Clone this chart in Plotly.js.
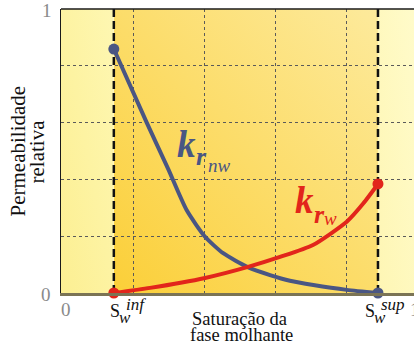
<!DOCTYPE html>
<html>
<head>
<meta charset="utf-8">
<script src="https://cdn.plot.ly/plotly-3.0.1.min.js"></script>
<style>html,body{margin:0;padding:0;background:#fff;}#chart{width:414px;height:346px;}</style>
</head>
<body>
<div id="chart"></div>
<script>
// ---- data ----
const swInf = 0.146;
const swSup = 0.890;
const krnwX = [0.146, 0.239, 0.299, 0.351, 0.403, 0.454, 0.525, 0.586, 0.642, 0.708, 0.802, 0.890];
const krnwY = [0.859, 0.599, 0.437, 0.292, 0.198, 0.140, 0.090, 0.063, 0.043, 0.028, 0.011, 0.000];
const krwX = [0.146, 0.248, 0.403, 0.524, 0.614, 0.707, 0.802, 0.849, 0.890];
const krwY = [0.000, 0.018, 0.053, 0.092, 0.127, 0.169, 0.251, 0.316, 0.384];
const gridVals = [0.2, 0.4, 0.6, 0.8];
const xTickLabels = ['0', '1'];
const yTickLabels = ['0', '1'];
const yTitleLines = ['Permeabilidade', 'relativa'];
const xTitleLines = ['Saturação da', 'fase molhante'];

// ---- styles ----
const BLUE = '#4a5683';
const RED = '#e2251b';
const SERIF = 'Liberation Serif, Times New Roman, serif';
const xRange = [-0.0028, 0.9915];

function grad(c0, c1) {
  const svg = "<svg xmlns='http://www.w3.org/2000/svg' width='100' height='100' viewBox='0 0 100 100' preserveAspectRatio='none'>" +
    "<defs><linearGradient id='g' x1='0' y1='1' x2='1' y2='0'>" +
    "<stop offset='0' stop-color='" + c0 + "'/><stop offset='1' stop-color='" + c1 + "'/></linearGradient></defs>" +
    "<rect width='100' height='100' fill='url(#g)'/></svg>";
  return 'data:image/svg+xml;charset=utf-8,' + encodeURIComponent(svg);
}

const traces = [
  {x: [swInf, swInf], y: [0, 1], mode: 'lines', line: {color: '#111', width: 2.5, dash: '8px,4px'}, hoverinfo: 'skip', showlegend: false},
  {x: [swSup, swSup], y: [0, 1], mode: 'lines', line: {color: '#111', width: 2.5, dash: '8px,4px'}, hoverinfo: 'skip', showlegend: false},
  {x: krnwX, y: krnwY, mode: 'lines', line: {color: BLUE, width: 4, shape: 'spline', smoothing: 0.6}, showlegend: false, cliponaxis: false},
  {x: krwX, y: krwY, mode: 'lines', line: {color: RED, width: 4, shape: 'spline', smoothing: 0.6}, showlegend: false, cliponaxis: false},
  {x: [krnwX[0], krnwX[krnwX.length - 1]], y: [krnwY[0], krnwY[krnwY.length - 1]], mode: 'markers', marker: {color: BLUE, size: 11}, showlegend: false, cliponaxis: false},
  {x: [krwX[0], krwX[krwX.length - 1]], y: [krwY[0], krwY[krwY.length - 1]], mode: 'markers', marker: {color: RED, size: 11}, showlegend: false, cliponaxis: false}
];

// paper coordinate helpers from pixel positions
const L = 61, T = 9, W = 353, H = 284;
const px = v => (v - L) / W;
const py = v => (T + H - v) / H;

function ann(text, x, y, opts) {
  return Object.assign({text: text, xref: 'paper', yref: 'paper', x: px(x), y: py(y), showarrow: false,
    xanchor: 'center', yanchor: 'middle', font: {family: SERIF, size: 18, color: '#111'}}, opts || {});
}

const annotations = [
  ann(yTickLabels[0], 46, 294, {font: {family: SERIF, size: 19, color: '#8a8a8a'}}),
  ann(yTickLabels[1], 47, 11, {font: {family: SERIF, size: 19, color: '#8a8a8a'}}),
  ann(xTickLabels[0], 66, 309, {font: {family: SERIF, size: 19, color: '#8a8a8a'}}),
  ann(xTickLabels[1], 415, 309, {font: {family: SERIF, size: 19, color: '#8a8a8a'}}),
  ann(yTitleLines[0], 17.5, 151, {textangle: -90, font: {family: SERIF, size: 21, color: '#111'}}),
  ann(yTitleLines[1], 36.5, 152, {textangle: -90, font: {family: SERIF, size: 21, color: '#111'}}),
  ann(xTitleLines[0], 239, 318.5, {font: {family: SERIF, size: 18.5, color: '#111'}}),
  ann(xTitleLines[1], 241, 334.5, {font: {family: SERIF, size: 18.5, color: '#111'}}),
  // S_w^inf
  ann('S', 107.5, 311, {xanchor: 'left', font: {family: SERIF, size: 18, color: '#111'}}),
  ann('<i>w</i>', 116.5, 317.5, {xanchor: 'left', font: {family: SERIF, size: 17, color: '#111'}}),
  ann('<i>inf</i>', 123.5, 304.5, {xanchor: 'left', font: {family: SERIF, size: 17, color: '#111'}}),
  // S_w^sup
  ann('S', 362.5, 311, {xanchor: 'left', font: {family: SERIF, size: 18, color: '#111'}}),
  ann('<i>w</i>', 371.5, 317.5, {xanchor: 'left', font: {family: SERIF, size: 17, color: '#111'}}),
  ann('<i>sup</i>', 379, 304.5, {xanchor: 'left', font: {family: SERIF, size: 17, color: '#111'}}),
  // k_r_nw
  ann('<i><b>k</b></i>', 175, 144.5, {xanchor: 'left', font: {family: SERIF, size: 37, color: BLUE}}),
  ann('<i><b>r</b></i>', 193.5, 156, {xanchor: 'left', font: {family: SERIF, size: 26, color: BLUE}}),
  ann('<i>nw</i>', 206, 165.5, {xanchor: 'left', font: {family: SERIF, size: 19, color: BLUE}}),
  // k_r_w
  ann('<i><b>k</b></i>', 293, 200.5, {xanchor: 'left', font: {family: SERIF, size: 37, color: RED}}),
  ann('<i><b>r</b></i>', 311.5, 214, {xanchor: 'left', font: {family: SERIF, size: 26, color: RED}}),
  ann('<i>w</i>', 322, 218.5, {xanchor: 'left', font: {family: SERIF, size: 19, color: RED}})
];

const images = [
  {source: grad('#fcef92', '#fef7b2'), xref: 'x', yref: 'y', x: xRange[0], y: 1, sizex: swInf - xRange[0], sizey: 1,
   sizing: 'stretch', xanchor: 'left', yanchor: 'top', layer: 'below'},
  {source: grad('#fbcf38', '#fdea9c'), xref: 'x', yref: 'y', x: swInf, y: 1, sizex: swSup - swInf, sizey: 1,
   sizing: 'stretch', xanchor: 'left', yanchor: 'top', layer: 'below'},
  {source: grad('#fef6b4', '#fffbca'), xref: 'x', yref: 'y', x: swSup, y: 1, sizex: xRange[1] - swSup, sizey: 1,
   sizing: 'stretch', xanchor: 'left', yanchor: 'top', layer: 'below'}
];

const layout = {
  width: 414, height: 346,
  margin: {l: L, r: 414 - L - W, t: T, b: 346 - T - H, pad: 0},
  paper_bgcolor: '#ffffff',
  plot_bgcolor: 'rgba(0,0,0,0)',
  showlegend: false,
  xaxis: {range: xRange, tickvals: gridVals, showticklabels: false, ticks: '', showgrid: true,
    gridcolor: '#5a5a5a', gridwidth: 1, griddash: '3px,3px', zeroline: false,
    showline: true, linecolor: '#7b7455', linewidth: 2.5, fixedrange: true},
  yaxis: {range: [0, 1], tickvals: gridVals, showticklabels: false, ticks: '', showgrid: true,
    gridcolor: '#5a5a5a', gridwidth: 1, griddash: '3px,3px', zeroline: false,
    showline: true, linecolor: '#1a1a1a', linewidth: 1.5, fixedrange: true},
  images: images,
  shapes: [
    {type: 'line', xref: 'paper', yref: 'paper', x0: 0, x1: 1, y0: 1, y1: 1, line: {color: '#1a1a1a', width: 1.5}, layer: 'above'}
  ],
  annotations: annotations
};

Plotly.newPlot('chart', traces, layout, {displayModeBar: false, staticPlot: true});
</script>
</body>
</html>
